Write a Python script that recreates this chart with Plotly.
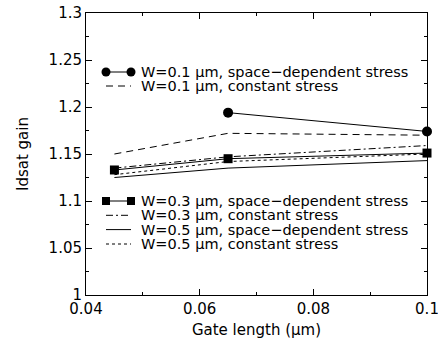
import plotly.graph_objects as go

# ---- Data ----
gate_len = [0.045, 0.065, 0.1]
w01_space_x = [0.065, 0.1]
w01_space_y = [1.194, 1.174]
w01_const_y = [1.150, 1.172, 1.170]
w03_space_y = [1.133, 1.145, 1.151]
w03_const_y = [1.135, 1.147, 1.159]
w05_space_y = [1.125, 1.135, 1.143]
w05_const_y = [1.128, 1.142, 1.150]

names = [
    "W=0.1 μm, space−dependent stress",
    "W=0.1 μm, constant stress",
    "W=0.3 μm, space−dependent stress",
    "W=0.3 μm, constant stress",
    "W=0.5 μm, space−dependent stress",
    "W=0.5 μm, constant stress",
]
x_tick_vals = [0.04, 0.06, 0.08, 0.1]
x_tick_text = ["0.04", "0.06", "0.08", "0.1"]
y_tick_vals = [1.0, 1.05, 1.1, 1.15, 1.2, 1.25, 1.3]
y_tick_text = ["1", "1.05", "1.1", "1.15", "1.2", "1.25", "1.3"]

# ---- Styles ----
FONT = "DejaVu Sans"
W, H = 438, 343
ML, MR, MT, MB = 86, 11, 13, 48
PW, PH = W - ML - MR, H - MT - MB

styles = [
    dict(dash="solid", marker="circle"),
    dict(dash="7px,5px", marker=None),
    dict(dash="solid", marker="square"),
    dict(dash="7px,3px,2px,3px", marker=None),
    dict(dash="solid", marker=None),
    dict(dash="3px,3px", marker=None),
]
series = [
    (w01_space_x, w01_space_y),
    (gate_len, w01_const_y),
    (gate_len, w03_space_y),
    (gate_len, w03_const_y),
    (gate_len, w05_space_y),
    (gate_len, w05_const_y),
]

fig = go.Figure()
for (xs, ys), st, nm in zip(series, styles, names):
    mk = st["marker"]
    fig.add_trace(go.Scatter(
        x=xs, y=ys, name=nm, showlegend=False, cliponaxis=False,
        mode="lines+markers" if mk else "lines",
        line=dict(color="black", width=1, dash=st["dash"]),
        marker=dict(symbol=mk or "circle", size=10 if mk == "circle" else 9, color="black"),
    ))

# ---- Legend (gnuplot-style key drawn in paper space) ----
def px_x(px):
    return (px - ML) / PW

def px_y(py):
    return (H - MB - py) / PH

row_centres = [72, 86, 201, 215.3, 229.6, 244]  # pixel rows of the two keys
sample_l, sample_r, text_x = 106, 131, 139

shapes = []
annotations = []
for st, nm, ry in zip(styles, names, row_centres):
    yy = px_y(ry)
    shapes.append(dict(type="line", xref="paper", yref="paper",
                       x0=px_x(sample_l), x1=px_x(sample_r), y0=yy, y1=yy,
                       line=dict(color="black", width=1, dash=st["dash"])))
    if st["marker"]:
        kind = "circle" if st["marker"] == "circle" else "rect"
        r = 4.5 if kind == "circle" else 4
        for sx in (sample_l, sample_r):
            shapes.append(dict(type=kind, xref="paper", yref="paper",
                               xsizemode="pixel", ysizemode="pixel",
                               xanchor=px_x(sx), yanchor=yy,
                               x0=-r, x1=r, y0=-r, y1=r,
                               fillcolor="black", line=dict(color="black", width=0)))
    annotations.append(dict(text=nm, xref="paper", yref="paper",
                            x=px_x(text_x), y=yy, xanchor="left", yanchor="middle",
                            showarrow=False, font=dict(family=FONT, size=14.5, color="black")))

axis_common = dict(showgrid=False, zeroline=False, showline=True, linecolor="black",
                   linewidth=1, mirror="ticks", ticks="inside", ticklen=6, tickcolor="black",
                   automargin=False, ticklabeloverflow="allow",
                   tickfont=dict(family=FONT, size=15, color="black"))

fig.update_layout(
    width=W, height=H,
    margin=dict(l=ML, r=MR, t=MT, b=MB, autoexpand=False),
    paper_bgcolor="white", plot_bgcolor="white",
    font=dict(family=FONT, size=14, color="black"),
    showlegend=False,
    shapes=shapes,
    annotations=annotations,
    xaxis=dict(range=[0.04, 0.1], tickvals=x_tick_vals, ticktext=x_tick_text,
               minor=dict(ticks="inside", ticklen=3, dtick=0.01, tick0=0.04, tickcolor="black"),
               title=dict(text="Gate length (μm)", font=dict(family=FONT, size=15), standoff=7),
               **axis_common),
    yaxis=dict(range=[1.0, 1.3], tickvals=y_tick_vals, ticktext=y_tick_text,
               minor=dict(ticks="inside", ticklen=3, dtick=0.025, tick0=1.0, tickcolor="black"),
               title=dict(text="Idsat gain", font=dict(family=FONT, size=15), standoff=16),
               **axis_common),
)

fig.write_html("out.html")
